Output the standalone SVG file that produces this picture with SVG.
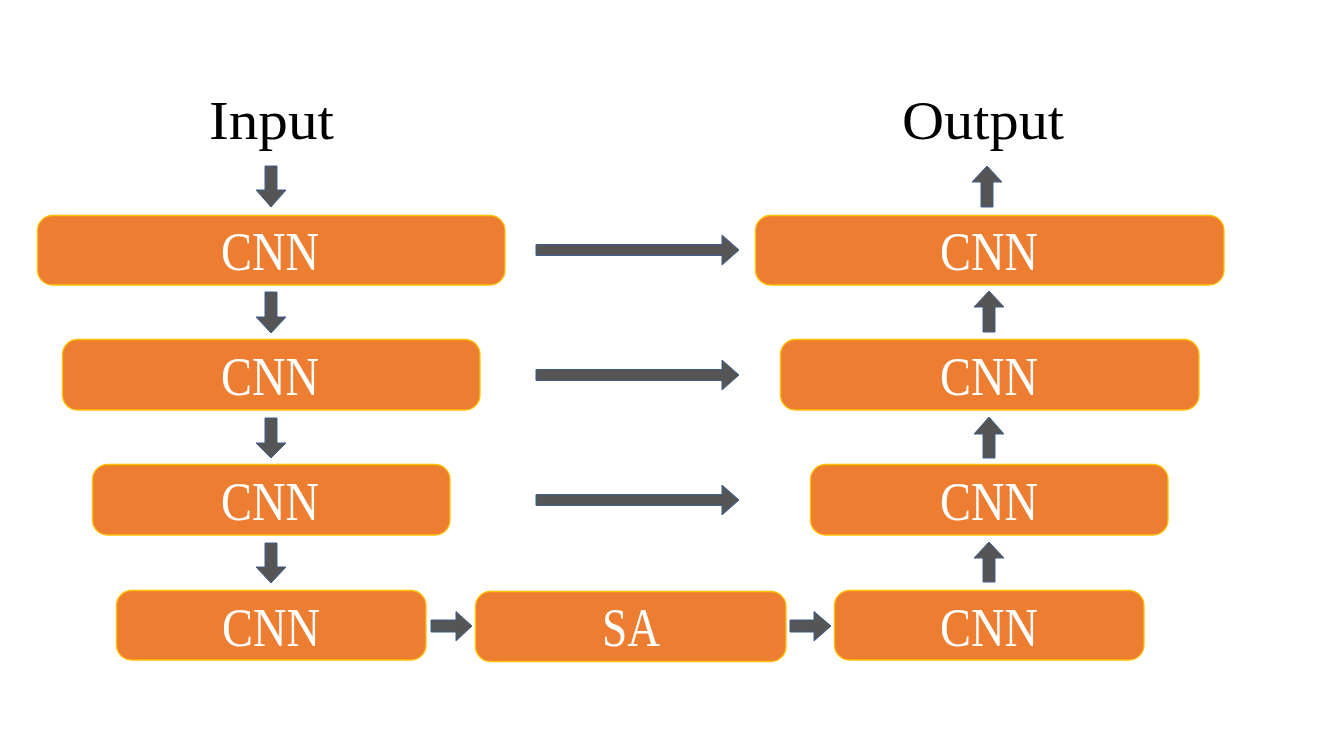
<svg xmlns="http://www.w3.org/2000/svg" width="1317" height="740" viewBox="0 0 1317 740">
<style>
.node rect{fill:#ED7D31;stroke:#FFC000;stroke-width:1.3}
.node text{fill:#FFFFFF;font-family:"Liberation Serif","DejaVu Serif",serif;font-size:54px;text-anchor:middle}
.label{fill:#000000;font-family:"Liberation Serif","DejaVu Serif",serif;font-size:54px;text-anchor:middle}
#connectors polygon{fill:#555555;stroke:#3E5F8F;stroke-width:1}
</style>
<rect x="0" y="0" width="1317" height="740" fill="#FFFFFF"/>
<text class="label" x="271.5" y="139" textLength="125" lengthAdjust="spacingAndGlyphs">Input</text>
<text class="label" x="983" y="139" textLength="162" lengthAdjust="spacingAndGlyphs">Output</text>
<g id="enc1" class="node"><rect x="37.5" y="215.5" width="467.5" height="69.5" rx="15"/><text x="270" y="270" textLength="98" lengthAdjust="spacingAndGlyphs">CNN</text></g>
<g id="enc2" class="node"><rect x="62.5" y="339.5" width="417.5" height="70.5" rx="15"/><text x="270" y="395" textLength="98" lengthAdjust="spacingAndGlyphs">CNN</text></g>
<g id="enc3" class="node"><rect x="92.5" y="464.5" width="357.5" height="70.5" rx="15"/><text x="270" y="520" textLength="98" lengthAdjust="spacingAndGlyphs">CNN</text></g>
<g id="enc4" class="node"><rect x="116.5" y="590.5" width="309.5" height="69.5" rx="15"/><text x="271" y="646" textLength="98" lengthAdjust="spacingAndGlyphs">CNN</text></g>
<g id="sa" class="node"><rect x="475.5" y="591.5" width="310.5" height="70" rx="15"/><text x="631" y="646" textLength="58" lengthAdjust="spacingAndGlyphs">SA</text></g>
<g id="dec4" class="node"><rect x="834.5" y="590.5" width="309.5" height="69.5" rx="15"/><text x="989" y="646" textLength="98" lengthAdjust="spacingAndGlyphs">CNN</text></g>
<g id="dec3" class="node"><rect x="810.5" y="464.5" width="357.5" height="70.5" rx="15"/><text x="989" y="520" textLength="98" lengthAdjust="spacingAndGlyphs">CNN</text></g>
<g id="dec2" class="node"><rect x="780.5" y="339.5" width="418.5" height="70.5" rx="15"/><text x="989" y="395" textLength="98" lengthAdjust="spacingAndGlyphs">CNN</text></g>
<g id="dec1" class="node"><rect x="755.5" y="215.5" width="468.5" height="69.5" rx="15"/><text x="989" y="270" textLength="98" lengthAdjust="spacingAndGlyphs">CNN</text></g>
<g id="connectors">
<polygon points="265,166 277,166 277,190 286,190 271,207 256,190 265,190"/>
<polygon points="265,292 277,292 277,317 286,317 271,333 256,317 265,317"/>
<polygon points="265,418 277,418 277,443 286,443 271,458 256,443 265,443"/>
<polygon points="265,543 277,543 277,567 286,567 271,583 256,567 265,567"/>
<polygon points="981,207 993,207 993,182 1002,182 987,166 972,182 981,182"/>
<polygon points="983,332 995,332 995,307 1004,307 989,291 974,307 983,307"/>
<polygon points="983,458 995,458 995,434 1004,434 989,417 974,434 983,434"/>
<polygon points="983,582 995,582 995,558 1004,558 989,542 974,558 983,558"/>
<polygon points="536,244.5 722,244.5 722,235 739,250 722,265 722,255.5 536,255.5"/>
<polygon points="536,369.5 722,369.5 722,360 739,375 722,390 722,380.5 536,380.5"/>
<polygon points="536,494.5 722,494.5 722,485 739,500 722,515 722,505.5 536,505.5"/>
<polygon points="431,620 456,620 456,611.5 472,626 456,641 456,632 431,632"/>
<polygon points="790,620 814,620 814,611.5 831,626 814,641 814,632 790,632"/>
</g>
</svg>
